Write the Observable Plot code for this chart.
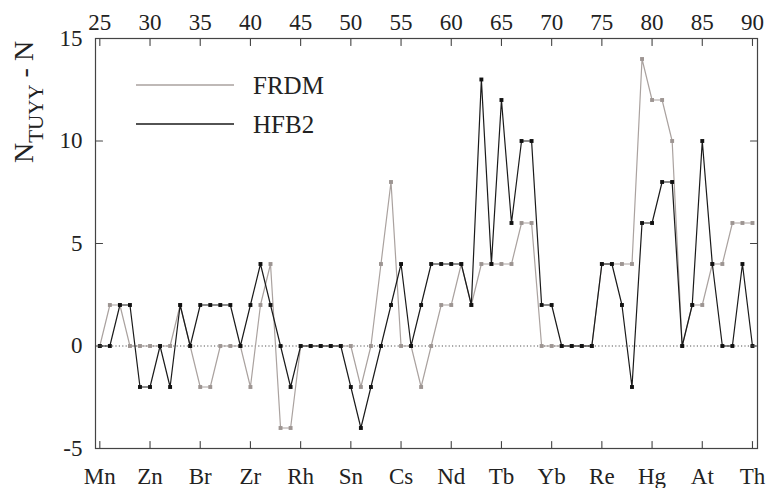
<!DOCTYPE html>
<html>
<head>
<meta charset="utf-8">
<script src="https://cdn.jsdelivr.net/npm/d3@7"></script>
<script src="https://cdn.jsdelivr.net/npm/@observablehq/plot@0.6"></script>
<style>
  html, body { margin: 0; padding: 0; background: #fff; }
  #chart svg { display: block; }
  #chart svg, #chart svg text, #chart svg tspan { font-family: "Liberation Serif", "Times New Roman", Times, Tinos, "Noto Serif", "DejaVu Serif", serif !important; }
</style>
</head>
<body>
<div id="chart"></div>
<script>
// Proton number Z
const Z = [25,26,27,28,29,30,31,32,33,34,35,36,37,38,39,40,41,42,43,44,45,46,47,48,49,50,51,52,53,54,55,56,57,58,59,60,61,62,63,64,65,66,67,68,69,70,71,72,73,74,75,76,77,78,79,80,81,82,83,84,85,86,87,88,89,90];
// N_TUYY - N for each model
const FRDM = [0,2,2,0,0,0,0,0,2,0,-2,-2,0,0,0,-2,2,4,-4,-4,0,0,0,0,0,0,-2,0,4,8,0,0,-2,0,2,2,4,2,4,4,4,4,6,6,0,0,0,0,0,0,4,4,4,4,14,12,12,10,0,2,2,4,4,6,6,6];
const HFB2 = [0,0,2,2,-2,-2,0,-2,2,0,2,2,2,2,0,2,4,2,0,-2,0,0,0,0,0,-2,-4,-2,0,2,4,0,2,4,4,4,4,2,13,4,12,6,10,10,2,2,0,0,0,0,4,4,2,-2,6,6,8,8,0,2,10,4,0,0,4,0];
// Tick labels
const xTicks = [25,30,35,40,45,50,55,60,65,70,75,80,85,90];
const elementLabels = ["Mn","Zn","Br","Zr","Rh","Sn","Cs","Nd","Tb","Yb","Re","Hg","At","Th"];
const yTicks = [-5,0,5,10,15];
const seriesNames = ["FRDM","HFB2"];
const seriesColors = ["#aaa29f","#1a1a1a"];
const markerColors = ["#9d9592","#111111"];

const xDomain = [24.57, 90.5];
const yDomain = [-5, 15];

const rows = [];
Z.forEach((z, i) => {
  rows.push({z, v: FRDM[i], s: seriesNames[0]});
});
Z.forEach((z, i) => {
  rows.push({z, v: HFB2[i], s: seriesNames[1]});
});

const tickShape = {
  draw(context, l) { context.moveTo(0, 0); context.lineTo(0, -l); }
};

const symbolOf = d3.scaleOrdinal(elementLabels).domain(xTicks);
const FONT = "\"Liberation Serif\", \"Times New Roman\", Times, Tinos, \"Noto Serif\", \"DejaVu Serif\", serif";

const plot = Plot.plot({
  width: 769,
  height: 488,
  marginLeft: 95,
  marginRight: 12,
  marginTop: 38,
  marginBottom: 40,
  style: {fontFamily: FONT, fontSize: "23px", color: "#222", background: "#fff"},
  x: {domain: xDomain, type: "linear"},
  y: {domain: yDomain, type: "linear"},
  marks: [
    Plot.ruleY([0], {stroke: "#555", strokeWidth: 1.1, strokeDasharray: "1.2,2.2"}),
    Plot.line(rows.filter(d => d.s === "FRDM"), {x: "z", y: "v", stroke: seriesColors[0], strokeWidth: 1.2}),
    Plot.dot(rows.filter(d => d.s === "FRDM"), {x: "z", y: "v", symbol: "square", r: 2.2, fill: markerColors[0], stroke: "none"}),
    Plot.line(rows.filter(d => d.s === "HFB2"), {x: "z", y: "v", stroke: seriesColors[1], strokeWidth: 1.2}),
    Plot.dot(rows.filter(d => d.s === "HFB2"), {x: "z", y: "v", symbol: "square", r: 2.2, fill: markerColors[1], stroke: "none"}),
    // inward ticks
    Plot.vector(xTicks, {x: d => d, y: yDomain[0], length: 7, rotate: 0, anchor: "start", shape: tickShape, stroke: "#444", strokeWidth: 1.1}),
    Plot.vector(xTicks, {x: d => d, y: yDomain[1], length: 7, rotate: 180, anchor: "start", shape: tickShape, stroke: "#444", strokeWidth: 1.1}),
    Plot.vector(yTicks, {x: xDomain[0], y: d => d, length: 7, rotate: 90, anchor: "start", shape: tickShape, stroke: "#444", strokeWidth: 1.1}),
    Plot.vector(yTicks, {x: xDomain[1], y: d => d, length: 7, rotate: -90, anchor: "start", shape: tickShape, stroke: "#444", strokeWidth: 1.1}),
    Plot.axisX({anchor: "bottom", ticks: xTicks, tickSize: 0, tickPadding: 19, tickFormat: d => symbolOf(d), label: null}),
    Plot.axisX({anchor: "top", ticks: xTicks, tickSize: 0, tickPadding: 9, tickFormat: d => String(d), label: null}),
    Plot.axisY({anchor: "left", ticks: yTicks, tickSize: 0, tickPadding: 13, tickFormat: d => String(d), label: null}),
    Plot.frame({stroke: "#444", strokeWidth: 1.2})
  ]
});

const svg = d3.select(plot);
svg.attr("font-family", FONT);
// Y-axis title with subscript
const yl = svg.append("text")
  .attr("transform", "translate(33,163) rotate(-90)")
  .attr("text-anchor", "start")
  .attr("fill", "#222")
  .style("font-size", "28px");
yl.append("tspan").text("N");
yl.append("tspan").attr("dy", 10).style("font-size", "21px").text("TUYY");
yl.append("tspan").attr("dy", -10).text(" - N");

// Legend
const legend = svg.append("g")
  .attr("text-anchor", "start")
  .style("font-size", "25px");
seriesNames.forEach((name, i) => {
  const y = 85 + i * 39;
  legend.append("line").attr("x1", 136).attr("x2", 234).attr("y1", y).attr("y2", y)
    .attr("stroke", seriesColors[i]).attr("stroke-width", 1.3);
  legend.append("text").attr("x", 253).attr("y", y + 9).attr("fill", "#222").text(name);
});

document.getElementById("chart").appendChild(plot);
</script>
</body>
</html>
